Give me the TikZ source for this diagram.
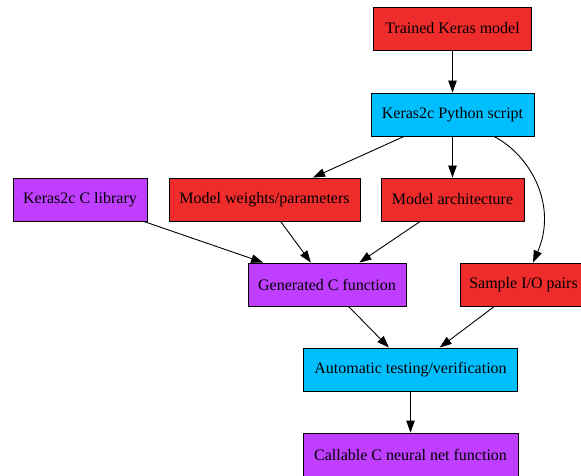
\documentclass[tikz,border=0pt]{standalone}
\usepackage{fontspec}
\setmainfont{Liberation Serif}
\usetikzlibrary{arrows.meta,calc}
\definecolor{gvred}{HTML}{EE2C2C}
\definecolor{gvblue}{HTML}{00BFFF}
\definecolor{gvpurple}{HTML}{BF3EFF}
\tikzset{
  box/.style={draw=black, line width=0.9pt, rectangle, minimum height=43pt, inner sep=0pt,
    font=\fontsize{16}{19}\selectfont, text=black},
  redbox/.style={box, fill=gvred},
  bluebox/.style={box, fill=gvblue},
  purplebox/.style={box, fill=gvpurple},
  edge/.style={draw=black, line width=0.9pt, -{Triangle[length=12pt,width=8.5pt]}}
}
\begin{document}
\begin{tikzpicture}[x=1pt,y=-1pt]
\useasboundingbox (0,0) rectangle (581,476);
\clip (0,0) rectangle (581,476);
\node[redbox, minimum width=158pt] (tk) at (452.5,28.5) {Trained Keras model};
\node[bluebox, minimum width=163pt] (py) at (452.5,114.5) {Keras2c Python script};
\node[purplebox, minimum width=134pt] (lib) at (80,199.5) {Keras2c C library};
\node[redbox, minimum width=191pt] (wt) at (264.5,199.5) {Model weights/parameters};
\node[redbox, minimum width=143pt] (arch) at (452.5,199.5) {Model architecture};
\node[purplebox, minimum width=158pt] (gen) at (327,284.5) {Generated C function};
\node[redbox, minimum width=127pt] (sio) at (523.5,284.5) {Sample I/O pairs};
\node[bluebox, minimum width=214pt] (auto) at (410.5,369.5) {Automatic testing/verification};
\node[purplebox, minimum width=215pt] (call) at (410.5,454.5) {Callable C neural net function};

\draw[edge] (tk) -- (py);
\draw[edge] (py) -- (wt);
\draw[edge] (py) -- (arch);
\draw[edge] ([xshift=41.5pt]py.south) .. controls (530,155) and (558,205) .. ([xshift=9.5pt]sio.north);
\draw[edge] (lib) -- (gen);
\draw[edge] (wt) -- (gen);
\draw[edge] (arch) -- (gen);
\draw[edge] (gen) -- (auto);
\draw[edge] (sio) -- (auto);
\draw[edge] (auto) -- (call);
\end{tikzpicture}
\end{document}
